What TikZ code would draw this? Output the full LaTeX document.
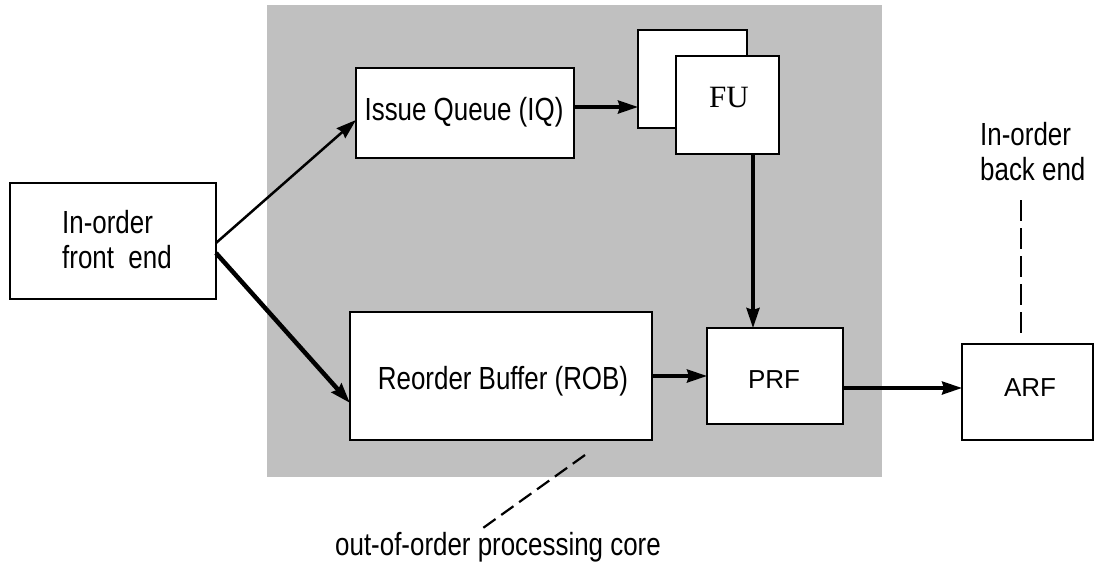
\documentclass[tikz,border=0pt]{standalone}
\usepackage{fontspec}
\setmainfont{Liberation Sans}
\newfontfamily\narrowfont[FakeStretch=0.81]{Liberation Sans}
\newfontfamily\seriffont{Liberation Serif}
\usetikzlibrary{arrows.meta}
\definecolor{coregray}{RGB}{192,192,192}
\begin{document}
\begin{tikzpicture}[x=1pt,y=-1pt,
  box/.style={draw, line width=2.2pt, fill=white, inner sep=0pt, outer sep=0pt},
  region/.style={fill=coregray, inner sep=0pt, outer sep=0pt},
  txt/.style={inner sep=0pt, anchor=base, font=\narrowfont\fontsize{32}{35}\selectfont},
  arr/.style={line width=3.5pt, -{Stealth[length=20pt,width=13pt,inset=2pt]}},
  leader/.style={line width=2.2pt, dash pattern=on 21pt off 7pt},
]
\useasboundingbox (0,0) rectangle (1095,563);

% out-of-order core region
\node[region, minimum width=615pt, minimum height=472pt] (core) at (574.5,241) {};

% blocks
\node[box, minimum width=206pt, minimum height=116pt] (fe)  at (113,241) {};
\node[box, minimum width=218pt, minimum height=90pt]  (iq)  at (465,113) {};
\node[box, minimum width=109pt, minimum height=98pt]  (fub) at (692.5,79) {};
\node[box, minimum width=103pt, minimum height=98pt]  (fuf) at (727.5,105) {};
\node[box, minimum width=302pt, minimum height=128pt] (rob) at (501,376) {};
\node[box, minimum width=136pt, minimum height=96pt]  (prf) at (775,376) {};
\node[box, minimum width=131pt, minimum height=96pt]  (arf) at (1027.5,392) {};

% block texts (a multi-line node sits on the baseline of its last line)
\node[txt, anchor=base west, align=left] (fe-t) at (62,268) {In-order\\front\ \ end};
\node[txt] (iq-t)  at (464,120) {Issue Queue (IQ)};
\node[txt] (rob-t) at (503,389) {Reorder Buffer (ROB)};
\node[inner sep=0pt, anchor=base, font=\seriffont\fontsize{31}{34}\selectfont] (fu-t) at (729,107) {FU};
\node[inner sep=0pt, anchor=base, font=\fontsize{26}{30}\selectfont] (prf-t) at (774,388) {PRF};
\node[inner sep=0pt, anchor=base, font=\fontsize{26}{30}\selectfont] (arf-t) at (1030,396) {ARF};

% annotations
\node[txt, anchor=base west, align=left] (back-t) at (980,180) {In-order\\back end};
\node[txt] (core-t) at (498,555) {out-of-order processing core};
\coordinate (back-lead) at (1021,200);
\coordinate (core-lead-a) at (585,455);
\coordinate (core-lead-b) at (483,528);

% data paths
\draw[arr, line width=2.5pt] ([yshift=-2pt]fe.east) -- ([yshift=-7pt]iq.west);
\draw[arr, line width=4.5pt] ([yshift=-12pt]fe.east) -- ([yshift=-27pt]rob.west);
\draw[arr] ([yshift=6pt]iq.east) -- ([yshift=-28pt]fub.west);
\draw[arr] ([xshift=25.5pt]fuf.south) -- ([xshift=-22pt]prf.north);
\draw[arr] (rob.east) -- (prf.west);
\draw[arr] ([yshift=-12pt]prf.east) -- ([yshift=4pt]arf.west);

% leader lines
\draw[leader] (back-lead) -- ([xshift=-6.5pt,yshift=6pt]arf.north);
\draw[leader, dash pattern=on 15pt off 7pt] (core-lead-a) -- (core-lead-b);
\end{tikzpicture}
\end{document}
